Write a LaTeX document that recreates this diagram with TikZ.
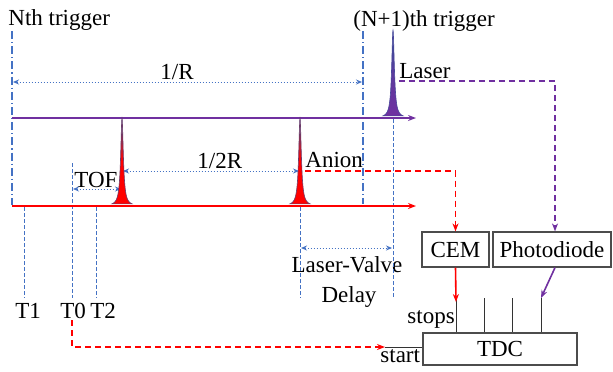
\documentclass[tikz,border=0pt]{standalone}
\usepackage{fontspec}
\setmainfont{Liberation Serif}
\usetikzlibrary{arrows.meta}
\definecolor{bl}{HTML}{4472C4}
\definecolor{pu}{HTML}{7030A0}
\definecolor{rd}{HTML}{FF0000}
\definecolor{pk}{HTML}{2F5597}
\tikzset{
  lbl/.style={inner sep=0pt, anchor=base west},
  trig/.style={bl, line width=0.6pt, dash pattern=on 4pt off 1.5pt on 0.6pt off 1.5pt},
  tline/.style={bl, line width=0.5pt, dash pattern=on 2pt off 1pt},
  span/.style={bl, line width=0.5pt, densely dotted, {Stealth[length=3pt,width=2.5pt]}-{Stealth[length=3pt,width=2.5pt]}},
  axis/.style={line width=1pt, -{Stealth[length=4pt,width=3pt]}},
  sig/.style={line width=0.8pt, dash pattern=on 3pt off 2pt, -{Stealth[length=4pt,width=3pt]}},
  box/.style={draw=black!70, line width=0.6pt, inner sep=0pt},
  stopl/.style={black!80, line width=0.5pt}
}
\begin{document}
\begin{tikzpicture}[x=0.5pt,y=-0.5pt, font=\fontsize{11.5}{13}\selectfont]
\useasboundingbox (0,0) rectangle (613,371);

% texts
\node[lbl] (nth) at (8,25) {Nth trigger};
\node[lbl] (n1th) at (353,26) {(N+1)th trigger};
\node[lbl] (rlab) at (160,79) {1/R};
\node[lbl] (laser) at (399,78) {Laser};
\node[lbl] (hr) at (197,168) {1/2R};
\node[lbl] (tof) at (74,187) {TOF};
\node[lbl] (anion) at (305,167) {Anion};
\node[lbl] (t1) at (15,318) {T1};
\node[lbl] (t0) at (60,318) {T0};
\node[lbl] (t2) at (90,318) {T2};
\node[inner sep=0pt, anchor=base] (lv) at (347,272) {Laser-Valve};
\node[inner sep=0pt, anchor=base] (dl) at (349,302) {Delay};
\node[lbl] (stops) at (407,323) {stops};
\node[lbl] (start) at (380,362) {start};

% boxes
\node[box, minimum width=33.5pt, minimum height=17.5pt] (cem) at (455.5,249.5) {CEM};
\node[box, minimum width=59pt, minimum height=17.5pt] (pd) at (552,249.5) {Photodiode};
\node[box, minimum width=77pt, minimum height=16pt] (tdc) at (500,349) {TDC};

% trigger lines
\draw[trig] (12,31) -- (12,205);
\draw[trig] (363,31) -- (363,204);

% time marker lines
\draw[tline] (24,207) -- (24,298);
\draw[tline] (72,163) -- (72,298);
\draw[tline] (96,207) -- (96,298);
\draw[tline] (300,207) -- (300,298);
\draw[tline] (393,119) -- (393,298);

% spans
\draw[span] (13,82) -- (362,82);
\draw[span] (123,171) -- (299,171);
\draw[span] (73,189) -- (121,189);
\draw[span] (301,248) -- (392,248);

% axes
\draw[axis, pu] (12,118) -- (416,118);
\draw[axis, rd] (12,206) -- (416,206);

% peaks
\foreach \xo in {122,300}{
  \shade[top color=pk, bottom color=rd, middle color=rd, draw=pk!70!rd, line width=0.3pt]
    plot[domain=-10:10, samples=161, smooth] ({\xo+\x}, {206-88/(1+(\x/1.6)^2)}) -- cycle;
}
\shade[top color=pk, bottom color=pu, middle color=pu!70!pk, draw=pk!60!pu, line width=0.3pt]
  plot[domain=-10:10, samples=161, smooth] ({393+\x}, {118-88/(1+(\x/1.6)^2)}) -- cycle;

% signal paths
\coordinate (la) at (399,81);
\coordinate (an) at (305,171);
\draw[sig, pu] (la) -| ([xshift=1.5pt]pd.north);
\draw[sig, rd] (an) -| (cem.north);

% stop lines
\coordinate (s1) at (456,298);
\coordinate (s2) at (484,298);
\coordinate (s3) at (512,298);
\coordinate (s4) at (541,298);
\draw[stopl] (s1) -- (s1 |- tdc.north);
\draw[stopl] (s2) -- (s2 |- tdc.north);
\draw[stopl] (s3) -- (s3 |- tdc.north);
\draw[stopl] (s4) -- (s4 |- tdc.north);
\draw[rd, line width=0.8pt, -{Stealth[length=4pt,width=3pt]}] (cem.south) -- ([yshift=-2pt]s1);
\draw[pu, line width=0.8pt, -{Stealth[length=4pt,width=3pt]}] ([xshift=1.5pt]pd.south) -- (s4);

% start
\coordinate (st) at (385,347);
\draw[stopl] (st) -- (st -| tdc.west);
\draw[sig, rd] (72,320) |- (st);
\end{tikzpicture}
\end{document}
